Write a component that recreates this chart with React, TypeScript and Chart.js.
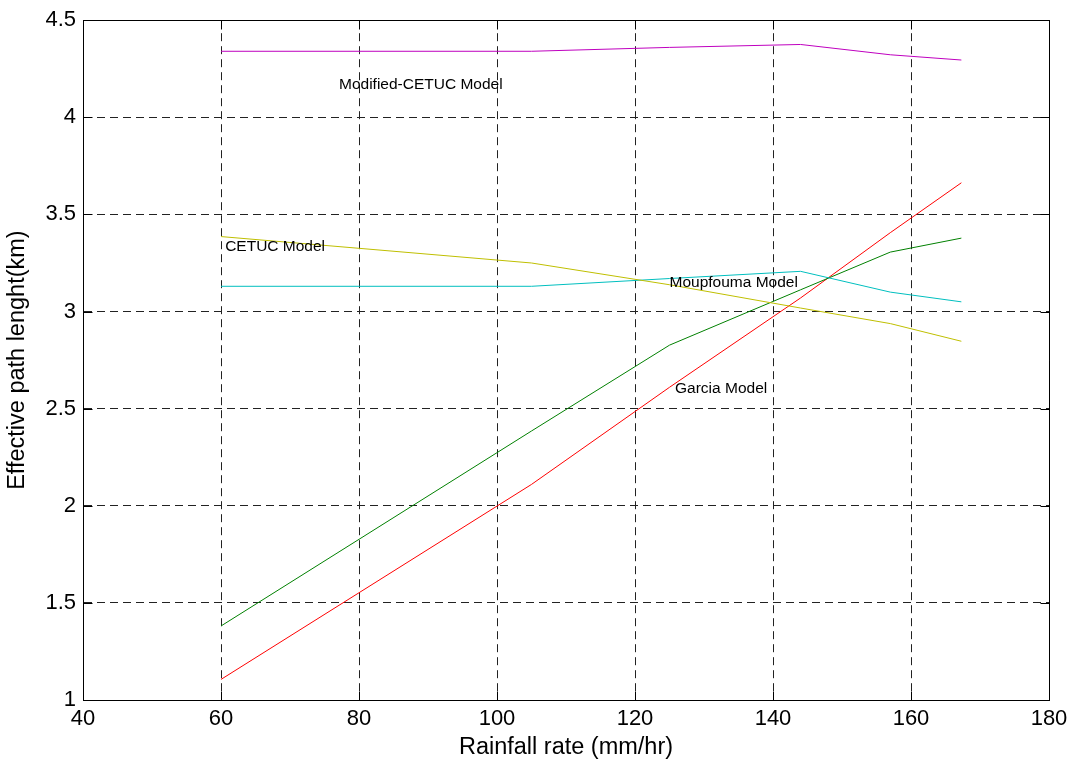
import React, { useEffect, useRef } from "react";
import { Chart, registerables } from "chart.js";

Chart.register(...registerables);

// Rainfall rate (mm/hr) sample points shared by every curve
const rainRate = [60, 105, 125, 144, 157, 167.3];

// Effective path length (km) for each model
const modifiedCetuc = [4.34, 4.34, 4.36, 4.375, 4.322, 4.295];
const cetuc = [3.386, 3.25, 3.138, 3.018, 2.938, 2.847];
const moupfouma = [3.13, 3.13, 3.17, 3.207, 3.1, 3.05];
const greenModel = [1.381, 2.385, 2.827, 3.112, 3.306, 3.378];
const garcia = [1.106, 2.11, 2.61, 3.07, 3.406, 3.663];

// Axis ticks
const xTickValues = [40, 60, 80, 100, 120, 140, 160, 180];
const yTickValues = [1, 1.5, 2, 2.5, 3, 3.5, 4, 4.5];
const yTickLabels = ["1", "1.5", "2", "2.5", "3", "3.5", "4", "4.5"];

// In-plot text labels (data coordinates)
const annotationText = ["Modified-CETUC Model", "CETUC Model", "Moupfouma Model", "Garcia Model"];
const annotationX = [77.1, 60.6, 125.0, 125.8];
const annotationY = [4.168, 3.335, 3.149, 2.604];

const FONT = "'Liberation Sans', Arial, Helvetica, sans-serif";

const boxPlugin = {
  id: "matlabBox",
  afterDraw(chart: any) {
    const { ctx, chartArea } = chart;
    const xs = chart.scales.x;
    const ys = chart.scales.y;
    const l = Math.round(chartArea.left) + 0.5;
    const r = Math.round(chartArea.right) + 0.5;
    const t = Math.round(chartArea.top) + 0.5;
    const b = Math.round(chartArea.bottom) + 0.5;
    const tick = 9;
    ctx.save();
    ctx.setLineDash([]);
    ctx.strokeStyle = "#000";
    ctx.lineWidth = 1;
    ctx.beginPath();
    ctx.moveTo(l, t);
    ctx.lineTo(r, t);
    ctx.lineTo(r, b);
    ctx.lineTo(l, b);
    ctx.closePath();
    for (const v of xTickValues) {
      const px = Math.round(xs.getPixelForValue(v)) + 0.5;
      ctx.moveTo(px, b);
      ctx.lineTo(px, b - tick);
      ctx.moveTo(px, t);
      ctx.lineTo(px, t + tick);
    }
    for (const v of yTickValues) {
      const py = Math.round(ys.getPixelForValue(v)) + 0.5;
      ctx.moveTo(l, py);
      ctx.lineTo(l + tick, py);
      ctx.moveTo(r, py);
      ctx.lineTo(r - tick, py);
    }
    ctx.stroke();

    ctx.fillStyle = "#000";
    ctx.font = `15.5px ${FONT}`;
    ctx.textAlign = "left";
    ctx.textBaseline = "middle";
    annotationText.forEach((txt, i) => {
      ctx.fillText(txt, xs.getPixelForValue(annotationX[i]), ys.getPixelForValue(annotationY[i]));
    });
    ctx.restore();
  },
};

function toPoints(ys: number[]) {
  return rainRate.map((x, i) => ({ x, y: ys[i] }));
}

export default function App() {
  const canvasRef = useRef<HTMLCanvasElement | null>(null);

  useEffect(() => {
    if (!canvasRef.current) return;
    const mk = (label: string, data: number[], color: string) => ({
      label,
      data: toPoints(data),
      borderColor: color,
      backgroundColor: color,
      borderWidth: 1,
      pointRadius: 0,
      tension: 0,
      fill: false,
    });
    const chart = new Chart(canvasRef.current, {
      type: "line",
      data: {
        datasets: [
          mk("Modified-CETUC Model", modifiedCetuc, "#bf00bf"),
          mk("CETUC Model", cetuc, "#bfbf00"),
          mk("Moupfouma Model", moupfouma, "#00bfbf"),
          mk("Green curve", greenModel, "#008000"),
          mk("Garcia Model", garcia, "#ff0000"),
        ],
      },
      plugins: [boxPlugin],
      options: {
        responsive: false,
        animation: false,
        events: [],
        layout: { padding: { left: 0, top: 18, right: 31, bottom: 0 } },
        plugins: {
          legend: { display: false },
          tooltip: { enabled: false },
          title: { display: false },
        },
        scales: {
          x: {
            type: "linear",
            min: 40,
            max: 180,
            afterFit: (s: any) => {
              s.height = 65;
            },
            afterBuildTicks: (s: any) => {
              s.ticks = xTickValues.map((v) => ({ value: v }));
            },
            ticks: {
              color: "#000",
              font: { family: FONT, size: 22 },
              padding: 6,
              maxRotation: 0,
              autoSkip: false,
              callback: (v: any) => String(v),
            },
            grid: {
              color: "#222",
              lineWidth: 1,
              drawTicks: false,
            },
            border: { display: true, color: "#000", width: 1, dash: [8, 5] },
            title: {
              display: true,
              text: "Rainfall rate (mm/hr)",
              color: "#000",
              font: { family: FONT, size: 23.5 },
              padding: { top: 0, bottom: 3 },
            },
          },
          y: {
            type: "linear",
            min: 1,
            max: 4.5,
            afterFit: (s: any) => {
              s.width = 83;
            },
            afterBuildTicks: (s: any) => {
              s.ticks = yTickValues.map((v) => ({ value: v }));
            },
            ticks: {
              color: "#000",
              font: { family: FONT, size: 22 },
              padding: 7,
              autoSkip: false,
              callback: (v: any) => {
                const i = yTickValues.indexOf(Number(v));
                return i >= 0 ? yTickLabels[i] : String(v);
              },
            },
            grid: {
              color: "#222",
              lineWidth: 1,
              drawTicks: false,
            },
            border: { display: true, color: "#000", width: 1, dash: [8, 5] },
            title: {
              display: true,
              text: "Effective path lenght(km)",
              color: "#000",
              font: { family: FONT, size: 23.5 },
              padding: { top: 3, bottom: 0 },
            },
          },
        },
      },
    } as any);
    return () => chart.destroy();
  }, []);

  return (
    <div style={{ position: "fixed", left: 0, top: 0, width: 1080, height: 765, background: "#fff" }}>
      <canvas ref={canvasRef} width={1080} height={765} style={{ display: "block", width: 1080, height: 765 }} />
    </div>
  );
}
